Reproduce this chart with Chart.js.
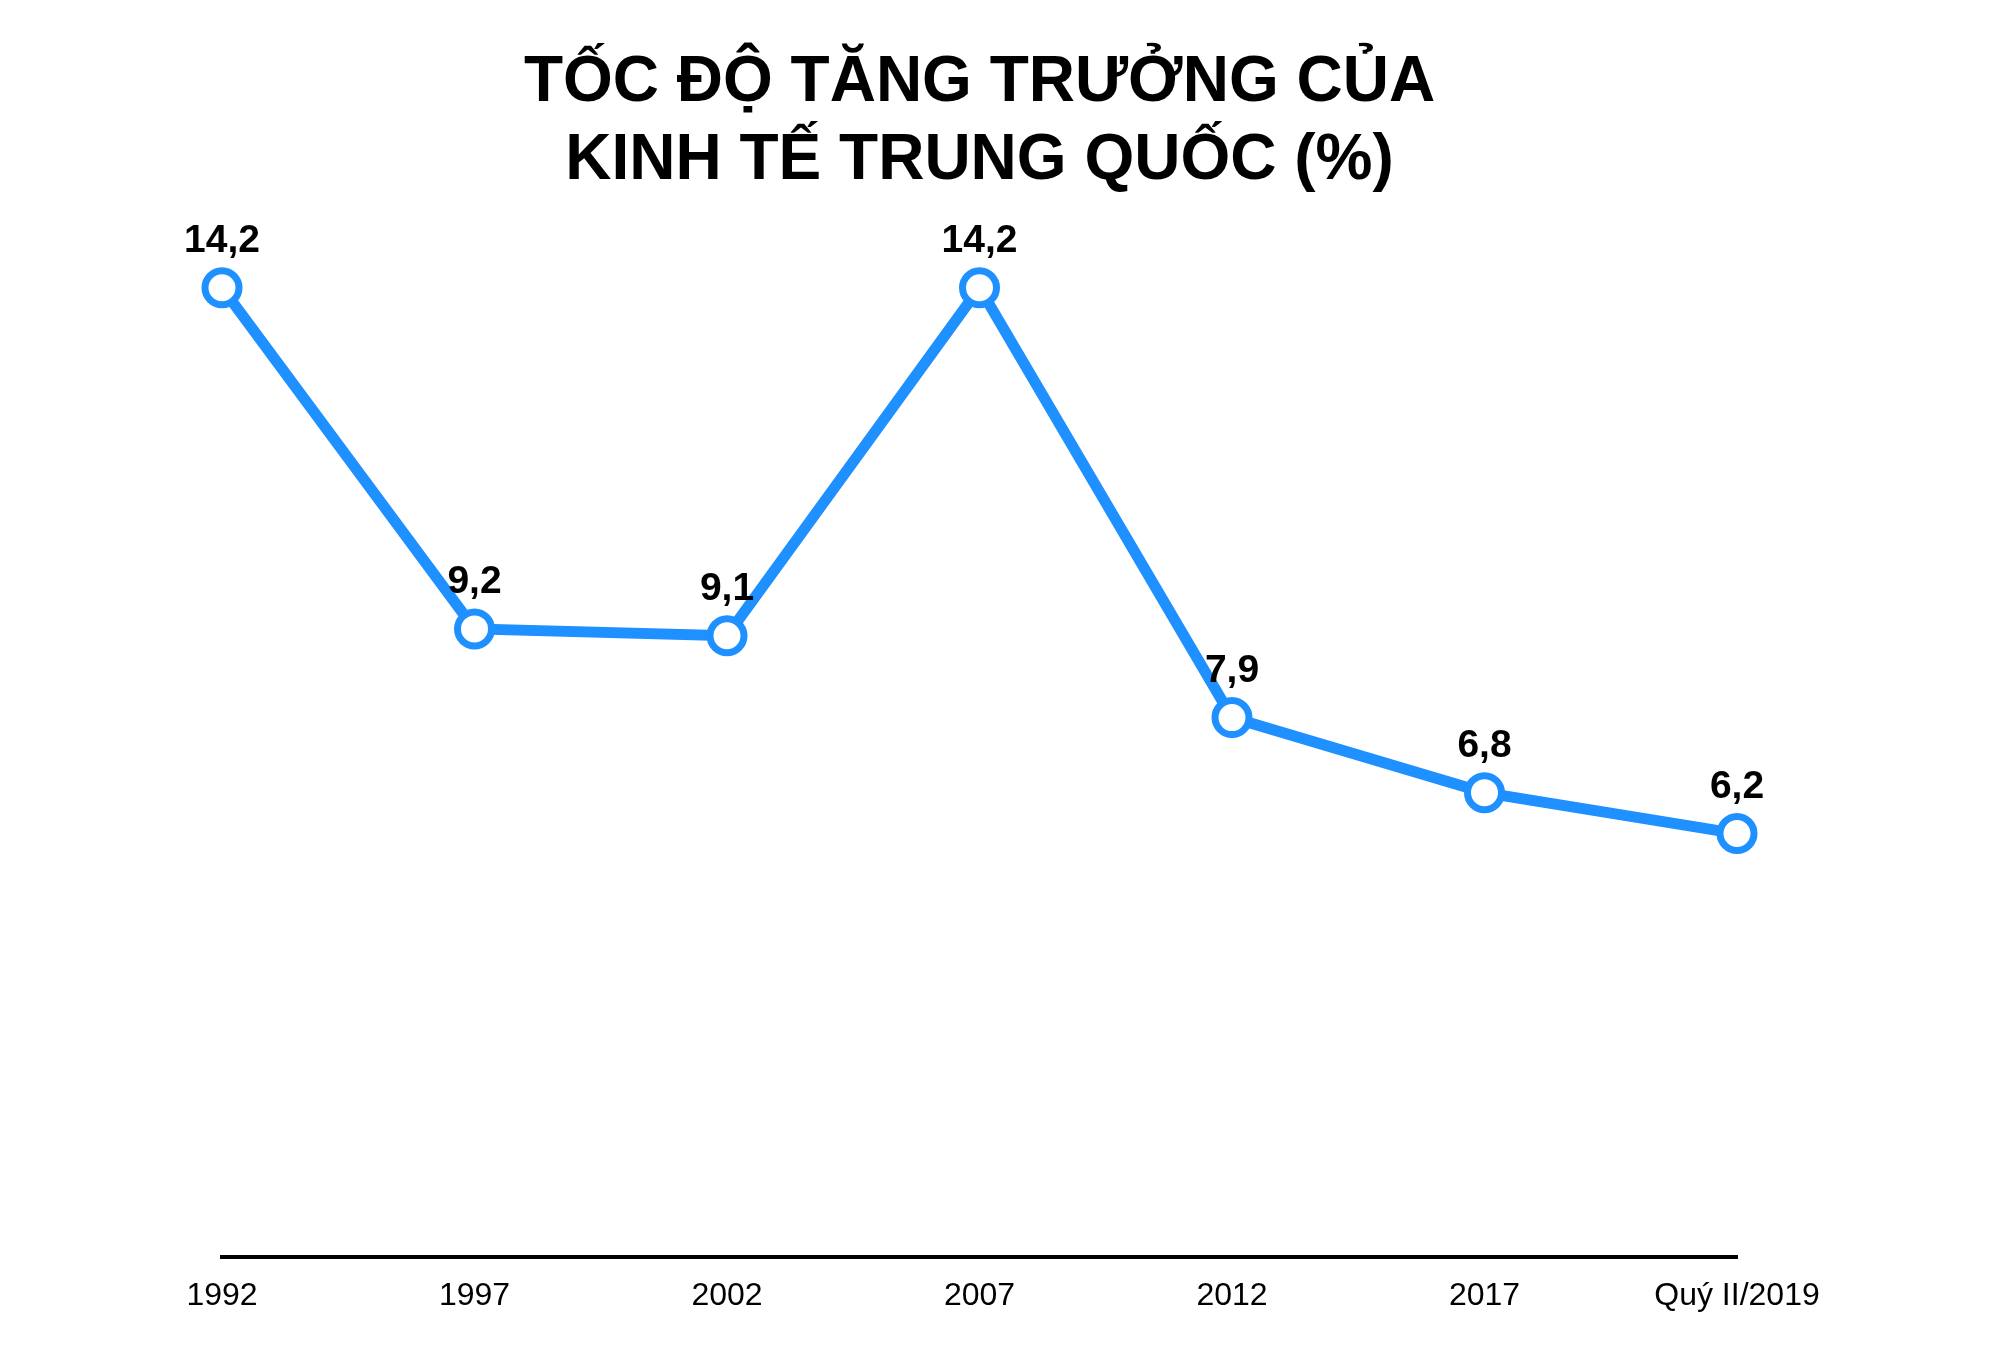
<!DOCTYPE html>
<html>
<head>
<meta charset="utf-8">
<script src="https://cdn.jsdelivr.net/npm/chart.js@4"></script>
<style>
  html, body { margin: 0; padding: 0; background: #fff; }
  #wrap { width: 2000px; height: 1360px; }
</style>
</head>
<body>
<div id="wrap"><canvas id="growthChart"></canvas></div>
<script>
const titleLines = ["TỐC ĐỘ TĂNG TRƯỞNG CỦA", "KINH TẾ TRUNG QUỐC (%)"];
const periods = ["1992", "1997", "2002", "2007", "2012", "2017", "Quý II/2019"];
const growth = [14.2, 9.2, 9.1, 14.2, 7.9, 6.8, 6.2];

const blue = "#1E90FF";
const fontFamily = "'Liberation Sans', Arial, Helvetica, sans-serif";

// draws the value above every point, with comma as decimal mark
const valueLabels = {
  id: "valueLabels",
  afterDatasetsDraw(chart) {
    const ctx = chart.ctx;
    const meta = chart.getDatasetMeta(0);
    ctx.save();
    ctx.font = "bold 39px " + fontFamily;
    ctx.fillStyle = "#000";
    ctx.textAlign = "center";
    ctx.textBaseline = "alphabetic";
    meta.data.forEach((pt, i) => {
      const txt = String(growth[i]).replace(".", ",");
      ctx.fillText(txt, pt.x, pt.y - 36);
    });
    ctx.restore();
  },
};

new Chart(document.getElementById("growthChart"), {
  type: "line",
  data: {
    labels: periods,
    datasets: [
      {
        data: growth,
        borderColor: blue,
        borderWidth: 11,
        pointRadius: 17,
        pointHoverRadius: 17,
        pointBorderWidth: 7,
        pointBackgroundColor: "#fff",
        pointBorderColor: blue,
        tension: 0,
        clip: false,
      },
    ],
  },
  options: {
    responsive: true,
    maintainAspectRatio: false,
    animation: false,
    devicePixelRatio: 1,
    layout: {
      padding: { top: 34, left: 222, right: 263, bottom: 25 },
    },
    plugins: {
      legend: { display: false },
      tooltip: { enabled: false },
      title: {
        display: true,
        text: titleLines,
        color: "#000",
        font: { family: fontFamily, size: 64, weight: "bold", lineHeight: 1.22 },
        padding: { top: 10, bottom: 33 },
      },
    },
    scales: {
      x: {
        offset: false,
        grid: { display: false, drawTicks: false },
        border: { display: true, color: "#000", width: 4 },
        ticks: {
          color: "#000",
          padding: 20,
          maxRotation: 0,
          autoSkip: false,
          font: { family: fontFamily, size: 32 },
        },
      },
      y: {
        display: false,
        min: 0,
        max: 15,
      },
    },
  },
  plugins: [valueLabels],
});
</script>
</body>
</html>
